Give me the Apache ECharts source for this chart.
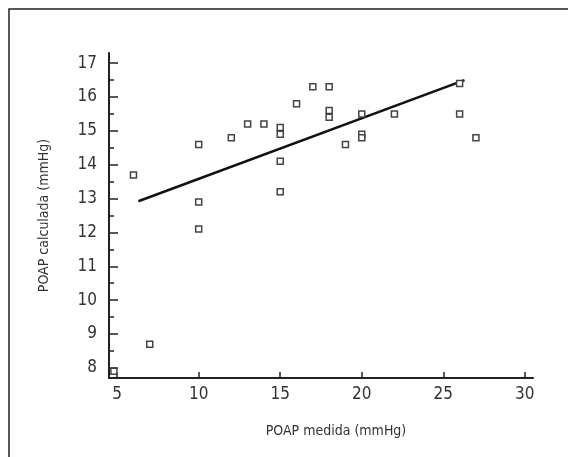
<!DOCTYPE html>
<html>
<head>
<meta charset="utf-8">
<script src="https://cdn.jsdelivr.net/npm/echarts@6/dist/echarts.min.js"></script>
<style>
    html, body { margin: 0; padding: 0; background: #fff; }
    #chart { width: 568px; height: 457px; }
</style>
</head>
<body>
<div id="chart"></div>
<script>
// POAP medida vs POAP calculada
const xTicks = [5, 10, 15, 20, 25, 30];
const yTicks = [8, 9, 10, 11, 12, 13, 14, 15, 16, 17];
const yMinorTicks = [8.5, 9.5, 10.5, 11.5, 12.5, 13.5, 14.5, 15.5, 16.5];

const medida = [4.8, 6, 7, 10, 10, 10, 12, 13, 14, 15, 15, 15, 15, 16, 17, 18, 18, 18, 19, 20, 20, 20, 22, 26, 26, 27];
const calculada = [7.9, 13.7, 8.7, 14.6, 12.9, 12.1, 14.8, 15.2, 15.2, 15.1, 14.9, 14.1, 13.2, 15.8, 16.3, 16.3, 15.6, 15.4, 14.6, 15.5, 14.9, 14.8, 15.5, 16.4, 15.5, 14.8];

// recta de regresion (extremos)
const trendX = [6.3, 26.3];
const trendY = [12.92, 16.5];

const font = "'Liberation Sans Narrow', 'DejaVu Sans Condensed', 'Liberation Sans', sans-serif";

const dom = echarts.init(document.getElementById("chart"), null, { renderer: "canvas" });

const xAxis = {
    type: "value",
    min: 4.5,
    max: 30.5,
    name: "POAP medida (mmHg)",
    nameLocation: "middle",
    nameGap: 46,
    nameTextStyle: { fontFamily: font, fontSize: 14, color: "#333", padding: [0, 0, 0, 30] },
    axisLine: { show: true, onZero: false, lineStyle: { color: "#222", width: 2 } },
    axisTick: { show: true, inside: true, length: 6, customValues: xTicks, lineStyle: { color: "#222", width: 1.5 } },
    axisLabel: { customValues: xTicks, margin: 8, fontFamily: font, fontSize: 17, color: "#333" },
    splitLine: { show: false }
};

const yAxis = [
    {
        type: "value",
        min: 7.7,
        max: 17.3,
        name: "POAP calculada (mmHg)",
        nameLocation: "middle",
        nameRotate: 90,
        nameGap: 58,
        nameTextStyle: { fontFamily: font, fontSize: 14, color: "#333" },
        axisLine: { show: true, onZero: false, lineStyle: { color: "#222", width: 2 } },
        axisTick: { show: true, inside: true, length: 9, customValues: yTicks, lineStyle: { color: "#222", width: 1.5 } },
        axisLabel: { customValues: yTicks, margin: 12, fontFamily: font, fontSize: 17, color: "#333" },
        splitLine: { show: false }
    },
    {
        // marcas menores
        type: "value",
        min: 7.7,
        max: 17.3,
        position: "left",
        axisLine: { show: false },
        axisTick: { show: true, inside: true, length: 5, customValues: yMinorTicks, lineStyle: { color: "#222", width: 1.5 } },
        axisLabel: { show: false },
        splitLine: { show: false }
    }
];

const seriesPoints = {
    type: "scatter",
    data: medida.map((x, i) => [x, calculada[i]]),
    symbol: "rect",
    symbolSize: 6,
    itemStyle: { color: "#fff", borderColor: "#444", borderWidth: 1.5, opacity: 1 },
    silent: true
};

const seriesTrend = {
    type: "line",
    data: trendX.map((x, i) => [x, trendY[i]]),
    symbol: "none",
    lineStyle: { color: "#111", width: 2.5 },
    silent: true,
    z: 1
};

const option = {
    animation: false,
    backgroundColor: "#fff",
    grid: { left: 109, right: 35, top: 53, bottom: 79 },
    xAxis,
    yAxis,
    series: [seriesTrend, seriesPoints],
    graphic: [
        {
            type: "rect",
            shape: { x: 9, y: 9, width: 620, height: 500 },
            style: { fill: null, stroke: "#222", lineWidth: 1.5 },
            silent: true
        }
    ]
};

dom.setOption(option);
</script>
</body>
</html>
